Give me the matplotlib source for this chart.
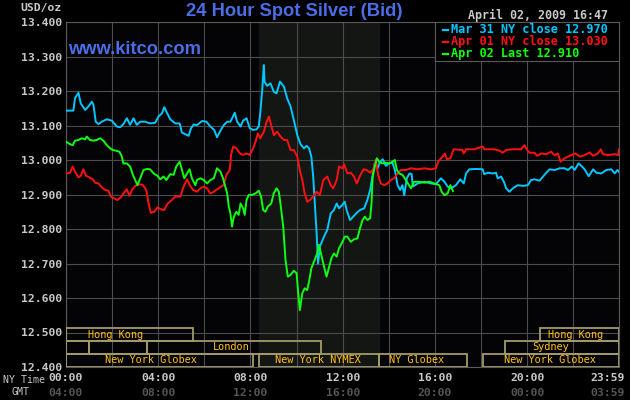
import numpy as np
import matplotlib.pyplot as plt
from matplotlib.patches import Rectangle
from matplotlib.transforms import blended_transform_factory, ScaledTranslation

'''datos leidos de la grafica: hora NY (decimal) y precio USD/oz'''
mar31_hour = [0.0, 0.32, 0.39, 0.54, 0.64, 0.83, 0.97, 1.12, 1.19, 1.29, 1.41, 1.55, 1.77, 1.99,
              2.20, 2.35, 2.49, 2.64, 2.78, 2.93, 3.07, 3.22, 3.43, 3.65, 3.87, 4.01, 4.16, 4.26,
              4.38, 4.52, 4.74, 4.93, 5.03, 5.17, 5.32, 5.42, 5.54, 5.68, 5.90, 6.09, 6.26, 6.43,
              6.55, 6.70, 6.84, 6.99, 7.13, 7.32, 7.42, 7.57, 7.68, 7.83, 7.97, 8.12, 8.26, 8.36,
              8.43, 8.51, 8.58, 8.61, 8.72, 8.87, 9.01, 9.13, 9.28, 9.45, 9.59, 9.74, 9.88, 10.03,
              10.17, 10.32, 10.43, 10.54, 10.64, 10.72, 10.78, 10.87, 10.93, 11.01, 11.19, 11.33,
              11.48, 11.62, 11.74, 11.84, 11.99, 12.09, 12.17, 12.32, 12.46, 12.61, 12.75, 12.93,
              13.07, 13.19, 13.29, 13.39, 13.51, 13.62, 13.74, 13.87, 14.01, 14.16, 14.26, 14.38,
              14.49, 14.59, 14.67, 14.78, 14.90, 14.99, 15.04, 15.25, 15.54, 15.83, 16.04, 16.26,
              16.41, 16.55, 16.70, 16.91, 17.10, 17.25, 17.35, 17.49, 17.78, 18.07, 18.14, 18.29,
              18.51, 18.65, 18.72, 18.87, 18.99, 19.09, 19.23, 19.38, 19.59, 19.81, 20.03, 20.17,
              20.32, 20.54, 20.75, 20.97, 21.19, 21.41, 21.62, 21.77, 21.94, 22.06, 22.23, 22.38,
              22.49, 22.67, 22.86, 23.00, 23.22, 23.43, 23.65, 23.80, 23.91, 23.983]
mar31_price = [13.143, 13.143, 13.179, 13.195, 13.164, 13.145, 13.155, 13.169, 13.160, 13.111,
               13.104, 13.111, 13.118, 13.114, 13.097, 13.095, 13.104, 13.121, 13.102, 13.121,
               13.102, 13.111, 13.111, 13.106, 13.108, 13.126, 13.135, 13.153, 13.137, 13.118,
               13.106, 13.106, 13.079, 13.075, 13.070, 13.092, 13.103, 13.101, 13.113, 13.111,
               13.097, 13.087, 13.066, 13.085, 13.101, 13.111, 13.111, 13.137, 13.111, 13.097,
               13.114, 13.121, 13.092, 13.087, 13.089, 13.097, 13.140, 13.203, 13.275, 13.227,
               13.215, 13.222, 13.198, 13.193, 13.227, 13.213, 13.179, 13.155, 13.116, 13.072,
               13.046, 13.034, 13.041, 13.034, 13.010, 12.952, 12.884, 12.787, 12.700, 12.749,
               12.778, 12.797, 12.845, 12.855, 12.874, 12.860, 12.870, 12.879, 12.855, 12.826,
               12.836, 12.847, 12.855, 12.860, 12.884, 12.913, 12.952, 12.990, 12.976, 12.995,
               13.002, 12.983, 12.990, 12.992, 12.971, 12.927, 12.913, 12.927, 12.898, 12.947,
               12.961, 12.959, 12.923, 12.932, 12.937, 12.932, 12.930, 12.947, 12.937, 12.923,
               12.918, 12.927, 12.944, 12.932, 12.961, 12.973, 12.974, 12.973, 12.959, 12.963,
               12.961, 12.963, 12.947, 12.952, 12.937, 12.918, 12.908, 12.918, 12.927, 12.925,
               12.927, 12.942, 12.944, 12.940, 12.957, 12.973, 12.971, 12.976, 12.976, 12.971,
               12.981, 12.971, 12.990, 12.981, 12.973, 12.953, 12.973, 12.963, 12.961, 12.971,
               12.973, 12.961, 12.971, 12.966]

apr01_hour = [0.0, 0.17, 0.29, 0.39, 0.54, 0.64, 0.75, 0.87, 1.01, 1.16, 1.26, 1.41, 1.55, 1.70,
              1.84, 1.94, 2.09, 2.23, 2.38, 2.49, 2.64, 2.75, 2.86, 3.00, 3.14, 3.33, 3.48, 3.58,
              3.68, 3.83, 3.97, 4.12, 4.26, 4.41, 4.59, 4.74, 4.96, 5.10, 5.25, 5.36, 5.51, 5.68,
              5.83, 5.97, 6.12, 6.26, 6.41, 6.55, 6.70, 6.84, 6.96, 7.10, 7.16, 7.25, 7.39, 7.54,
              7.68, 7.83, 7.97, 8.12, 8.22, 8.32, 8.43, 8.58, 8.70, 8.80, 8.90, 9.01, 9.16, 9.30,
              9.45, 9.59, 9.74, 9.88, 10.03, 10.14, 10.25, 10.35, 10.46, 10.58, 10.72, 10.87,
              11.01, 11.16, 11.33, 11.48, 11.59, 11.74, 11.84, 11.99, 12.06, 12.20, 12.35, 12.49,
              12.61, 12.75, 12.90, 13.04, 13.19, 13.33, 13.43, 13.54, 13.65, 13.80, 13.94, 14.09,
              14.23, 14.38, 14.52, 14.74, 14.96, 15.25, 15.54, 15.83, 16.04, 16.14, 16.33, 16.43,
              16.52, 16.67, 16.81, 17.20, 17.25, 17.35, 17.71, 18.07, 18.14, 18.58, 18.80, 18.94,
              19.09, 19.38, 19.74, 19.88, 20.00, 20.10, 20.32, 20.43, 20.61, 20.83, 21.04, 21.19,
              21.33, 21.45, 21.62, 21.84, 22.09, 22.28, 22.49, 22.71, 22.86, 23.07, 23.19, 23.29,
              23.51, 23.80, 23.94, 23.983]
apr01_price = [12.961, 12.963, 12.981, 12.966, 12.950, 12.954, 12.973, 12.954, 12.950, 12.944,
               12.934, 12.932, 12.921, 12.913, 12.911, 12.894, 12.889, 12.884, 12.892, 12.903,
               12.915, 12.896, 12.913, 12.925, 12.930, 12.928, 12.913, 12.874, 12.847, 12.850,
               12.863, 12.857, 12.855, 12.874, 12.884, 12.894, 12.894, 12.923, 12.944, 12.928,
               12.913, 12.908, 12.918, 12.923, 12.918, 12.903, 12.908, 12.915, 12.921, 12.928,
               12.957, 12.971, 13.015, 13.039, 13.034, 13.019, 13.015, 13.019, 13.015, 13.034,
               13.053, 13.077, 13.063, 13.082, 13.111, 13.126, 13.101, 13.072, 13.082, 13.068,
               13.058, 13.058, 13.029, 13.029, 13.010, 12.971, 12.942, 12.903, 12.879, 12.884,
               12.894, 12.908, 12.899, 12.942, 12.952, 12.927, 12.918, 12.942, 12.981, 12.976,
               12.988, 12.961, 12.963, 12.952, 12.932, 12.954, 12.973, 12.971, 12.963, 12.973,
               13.000, 12.956, 12.932, 12.927, 12.932, 12.942, 12.947, 12.961, 12.971, 12.971,
               12.976, 12.973, 12.976, 12.973, 12.976, 12.995, 13.010, 13.019, 13.002, 13.005,
               13.031, 13.029, 13.019, 13.031, 13.031, 13.039, 13.031, 13.031, 13.027, 13.021,
               13.029, 13.031, 13.031, 13.043, 13.029, 13.021, 13.021, 13.012, 13.019, 13.017,
               13.024, 13.014, 13.019, 12.995, 13.005, 13.012, 13.019, 13.010, 13.014, 13.022,
               13.012, 13.019, 13.031, 13.017, 13.014, 13.017, 13.014, 13.031]

apr02_hour = [0.0, 0.17, 0.29, 0.39, 0.54, 0.68, 0.83, 0.90, 1.04, 1.19, 1.33, 1.48, 1.62, 1.77,
              1.91, 2.03, 2.17, 2.32, 2.42, 2.49, 2.64, 2.78, 2.90, 3.00, 3.10, 3.22, 3.36, 3.51,
              3.65, 3.80, 3.97, 4.09, 4.23, 4.35, 4.52, 4.67, 4.78, 4.93, 5.03, 5.13, 5.25, 5.36,
              5.46, 5.61, 5.68, 5.83, 5.97, 6.12, 6.26, 6.41, 6.55, 6.70, 6.81, 6.91, 6.99, 7.06,
              7.13, 7.20, 7.28, 7.39, 7.49, 7.57, 7.68, 7.75, 7.83, 7.93, 8.07, 8.22, 8.36, 8.46,
              8.55, 8.65, 8.75, 8.90, 9.01, 9.13, 9.23, 9.30, 9.42, 9.52, 9.62, 9.74, 9.88, 10.00,
              10.06, 10.14, 10.25, 10.35, 10.46, 10.54, 10.64, 10.78, 10.90, 10.97, 11.04, 11.19,
              11.30, 11.51, 11.62, 11.74, 11.84, 11.99, 12.09, 12.20, 12.35, 12.49, 12.64, 12.75,
              12.86, 12.96, 13.07, 13.19, 13.25, 13.30, 13.39, 13.48, 13.58, 13.72, 13.87, 14.01,
              14.16, 14.26, 14.35, 14.45, 14.59, 14.74, 14.88, 14.96, 15.10, 15.32, 15.54, 15.75,
              15.97, 16.19, 16.29, 16.41, 16.55, 16.67, 16.78]
apr02_price = [13.053, 13.046, 13.043, 13.056, 13.058, 13.063, 13.060, 13.068, 13.058, 13.056,
               13.058, 13.063, 13.056, 13.043, 13.034, 13.029, 13.027, 13.024, 13.010, 12.990,
               12.990, 12.981, 12.957, 12.942, 12.927, 12.947, 12.971, 12.974, 12.973, 12.961,
               12.954, 12.944, 12.952, 12.942, 12.959, 12.957, 12.981, 12.995, 12.971, 12.947,
               12.961, 12.973, 12.947, 12.927, 12.942, 12.947, 12.942, 12.932, 12.942, 12.947,
               12.976, 12.966, 12.947, 12.923, 12.903, 12.865, 12.845, 12.807, 12.836, 12.850,
               12.841, 12.874, 12.860, 12.841, 12.884, 12.899, 12.899, 12.903, 12.911, 12.894,
               12.855, 12.850, 12.865, 12.874, 12.903, 12.918, 12.908, 12.874, 12.807, 12.710,
               12.662, 12.667, 12.679, 12.672, 12.623, 12.565, 12.614, 12.628, 12.623, 12.647,
               12.686, 12.710, 12.730, 12.754, 12.734, 12.691, 12.662, 12.715, 12.729, 12.720,
               12.744, 12.763, 12.778, 12.778, 12.763, 12.770, 12.773, 12.802, 12.826, 12.836,
               12.826, 12.831, 12.874, 12.952, 12.981, 13.005, 12.995, 12.990, 12.992, 12.990,
               12.995, 13.000, 12.971, 12.961, 12.957, 12.942, 12.927, 12.918, 12.937, 12.937,
               12.934, 12.937, 12.932, 12.927, 12.908, 12.898, 12.903, 12.927, 12.910]

series_names = ['Mar 31 NY close 12.970', 'Apr 01 NY close 13.030', 'Apr 02 Last 12.910']
series_colors = ['#00c8ff', '#ff1010', '#10ff10']

# sesiones de mercado (fila, inicio, fin, nombre, centro del nombre)
sess_row = [0, 0, 1, 1, 1, 1, 2, 2, 2, 2]
sess_start = [0.0, 20.56, 0.0, 1.0, 3.5, 19.04, 0.0, 8.36, 13.57, 18.1]
sess_end = [5.52, 23.983, 1.0, 3.5, 11.04, 23.983, 8.1, 13.57, 17.4, 23.983]
sess_name = ['Hong Kong', 'Hong Kong', '', '', 'London', 'Sydney',
             'New York Globex', 'New York NYMEX', 'NY Globex', 'New York Globex']
sess_text_hour = [2.13, 22.09, 0.5, 2.25, 7.17, 21.02, 3.67, 10.91, 15.22, 21.0]

ny_ticks = [0, 4, 8, 12, 16, 20, 23.983]
ny_labels = ['00:00', '04:00', '08:00', '12:00', '16:00', '20:00', '23:59']
gmt_labels = ['04:00', '08:00', '12:00', '16:00', '20:00', '00:00', '03:59']

W, H = 630, 400
MONO = 'DejaVu Sans Mono'

fig = plt.figure(figsize=(W / 100, H / 100), dpi=100, facecolor='black')
ax = fig.add_axes([66 / W, 1 - 367 / H, (619 - 66) / W, (367 - 22) / H], facecolor='#040406')
ax.set_xlim(0, 23.983)
ax.set_ylim(12.4, 13.4)

# zona sombreada de la sesion NYMEX
ax.axvspan(8.36, 13.57, color='#131613', zorder=0)

# grilla
ax.set_xticks(ny_ticks)
ax.set_xticks(np.arange(2, 24, 2), minor=True)
ax.set_yticks(np.arange(12.4, 13.401, 0.1))
ax.set_yticklabels(['%.3f' % v for v in np.arange(12.4, 13.401, 0.1)],
                   fontfamily=MONO, fontweight='bold', fontsize=8.2, color='#c8c8c8')
ax.set_xticklabels([])
ax.tick_params(which='both', length=0, pad=3)
ax.grid(which='both', color='#4c4c4c', lw=0.8, zorder=1)
for s in ax.spines.values():
    s.set_color('#5a5a5a')
    s.set_linewidth(0.8)

# lineas de precio
lines = [(mar31_hour, mar31_price), (apr01_hour, apr01_price), (apr02_hour, apr02_price)]
for (hh, pp), c in zip(lines, series_colors):
    ax.plot(hh, pp, color=c, lw=1.4, zorder=3)

# cajas de sesiones
row_top = [12.5130, 12.4754, 12.4377]
row_h = 12.5130 - 12.4754
box_col = '#a39b6a'
for r, a, b, name, th in zip(sess_row, sess_start, sess_end, sess_name, sess_text_hour):
    ax.add_patch(Rectangle((a, row_top[r] - row_h), b - a, row_h, fill=False,
                           ec=box_col, lw=1.3, zorder=4))
    if name:
        ax.text(th, row_top[r] - row_h / 2, name, ha='center', va='center', color='#ffc01a',
                fontfamily=MONO, fontsize=7.4, zorder=5)

# leyenda (caja negra arriba a la derecha)
leg = fig.add_axes([435 / W, 1 - 61 / H, (619 - 435) / W, (61 - 22) / H])
leg.set_facecolor('black')
leg.set_xlim(435, 619)
leg.set_ylim(61, 22)
for sp in leg.spines.values():
    sp.set_color('#5a5a5a')
    sp.set_linewidth(0.8)
leg.set_xticks([])
leg.set_yticks([])
for i, (name, c) in enumerate(zip(series_names, series_colors)):
    yy = 29.5 + 12 * i
    leg.plot([442.5, 447.5], [yy, yy], color=c, lw=1.6)
    leg.text(451, yy, name, color=c, fontfamily=MONO, fontweight='bold', fontsize=8.6,
             va='center', ha='left')

# etiquetas eje x: hora NY y GMT
tr = blended_transform_factory(ax.transData, fig.transFigure)
for k, (t, a, g) in enumerate(zip(ny_ticks, ny_labels, gmt_labels)):
    ha = 'center'
    trk = tr
    if k == len(ny_ticks) - 1:
        ha = 'right'
        trk = tr + ScaledTranslation(6 / 100, 0, fig.dpi_scale_trans)
    ax.text(t, 1 - 378 / H, a, transform=trk, ha=ha, va='center', color='#c8c8c8',
            fontfamily=MONO, fontweight='bold', fontsize=8.2, clip_on=False)
    ax.text(t, 1 - 393 / H, g, transform=trk, ha=ha, va='center', color='#555555',
            fontfamily=MONO, fontweight='bold', fontsize=8.2, clip_on=False)

fig.text(45 / W, 1 - 380 / H, 'NY Time', ha='right', va='center', color='#c8c8c8',
         fontfamily=MONO, fontsize=7.1)
fig.text(29 / W, 1 - 392 / H, 'GMT', ha='right', va='center', color='#c8c8c8',
         fontfamily=MONO, fontsize=7.1)

# titulos
fig.text(62 / W, 1 - 8 / H, 'USD/oz', ha='right', va='center', color='#c8c8c8',
         fontfamily=MONO, fontweight='bold', fontsize=8.2)
fig.text(294 / W, 1 - 11 / H, '24 Hour Spot Silver (Bid)', ha='center', va='center',
         color='#4a6ee6', fontfamily='Liberation Sans', fontweight='bold', fontsize=13.2)
fig.text(68 / W, 1 - 50 / H, 'www.kitco.com', ha='left', va='center',
         color='#4a6ee6', fontfamily='Liberation Sans', fontweight='bold', fontsize=13.2)
fig.text(608 / W, 1 - 15 / H, 'April 02, 2009 16:47', ha='right', va='center',
         color='#c8c8c8', fontfamily=MONO, fontweight='bold', fontsize=8.4)

fig.savefig('out.png', dpi=100, facecolor='black')
